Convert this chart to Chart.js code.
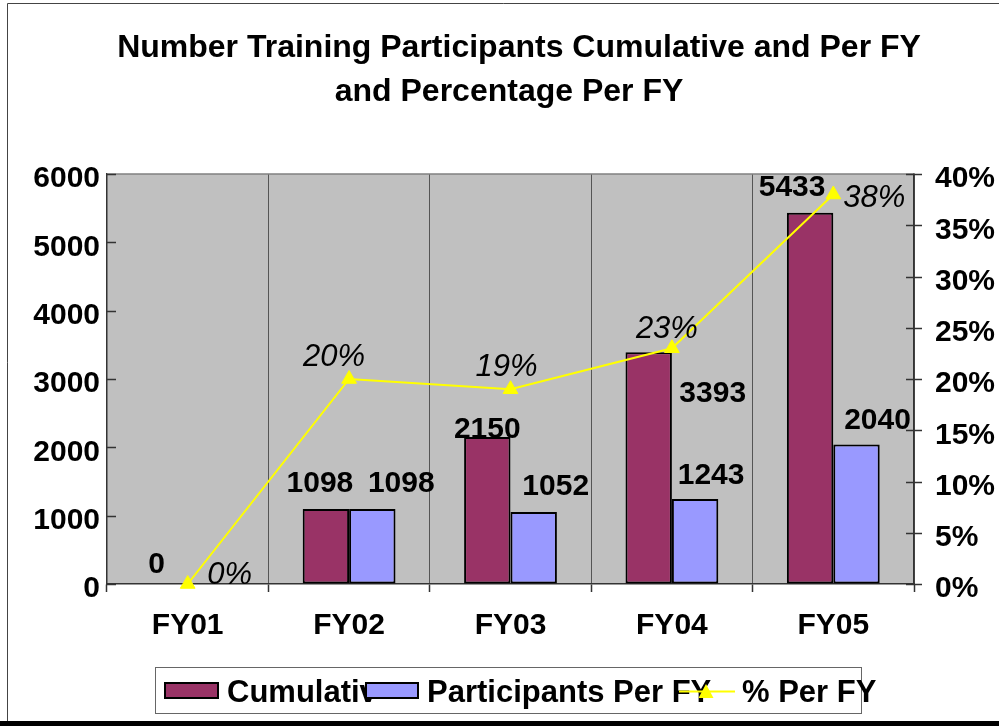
<!DOCTYPE html>
<html>
<head>
<meta charset="utf-8">
<script src="https://cdn.jsdelivr.net/npm/chart.js@4.4.0/dist/chart.umd.min.js"></script>
<style>
  body { margin: 0; background: #fff; }
  #wrap { width: 999px; height: 726px; position: relative; }
</style>
</head>
<body>
<div id="wrap"><canvas id="myChart"></canvas></div>
<script>
const categories = ['FY01', 'FY02', 'FY03', 'FY04', 'FY05'];
const cumulative = [0, 1098, 2150, 3393, 5433];
const perFY = [0, 1098, 1052, 1243, 2040];
const pctPerFY = [0, 20, 19, 23, 38];
const titleLines = ['Number Training Participants Cumulative and Per FY', 'and Percentage Per FY'];

const FONT = "'Liberation Sans', Arial, sans-serif";

// hand placed label offsets, like the moved labels of the original
const labelShift = {
  0: [[-8, -19], [-6, -25], [0, -7], [64, 42], [-18, -25]],
  1: [null, [29, -25], [22, -25], [16, -23], [21, -24]],
  2: [[42, -9], [-15, -22], [-4, -22], [-5, -19], [41, 4]]
};

const framePlugin = {
  id: 'frame',
  beforeDraw(chart) {
    const ctx = chart.ctx;
    const a = chart.chartArea;
    ctx.save();
    ctx.fillStyle = '#fff';
    ctx.fillRect(0, 0, chart.width, chart.height);
    ctx.strokeStyle = '#444';
    ctx.lineWidth = 1;
    ctx.beginPath();
    ctx.moveTo(7.5, 721);
    ctx.lineTo(7.5, 3.5);
    ctx.lineTo(chart.width, 3.5);
    ctx.stroke();
    ctx.fillStyle = '#000';
    ctx.fillRect(0, 721, chart.width, 5);
    ctx.fillStyle = '#C0C0C0';
    ctx.fillRect(a.left, a.top, a.right - a.left, a.bottom - a.top);
    ctx.restore();
  },
  afterDraw(chart) {
    const ctx = chart.ctx;
    const a = chart.chartArea;
    ctx.save();
    // top edge of plot area
    ctx.strokeStyle = '#808080';
    ctx.lineWidth = 1.5;
    ctx.beginPath();
    ctx.moveTo(a.left, a.top);
    ctx.lineTo(a.right, a.top);
    ctx.stroke();
    // tick marks: inward on the left, crossing on the right
    ctx.strokeStyle = '#333';
    ctx.lineWidth = 1.5;
    const yl = chart.scales.y;
    yl.ticks.forEach(function (t) {
      const py = Math.round(yl.getPixelForValue(t.value)) + 0.5;
      ctx.beginPath();
      ctx.moveTo(a.left, py);
      ctx.lineTo(a.left + 9, py);
      ctx.stroke();
    });
    const yr = chart.scales.y1;
    yr.ticks.forEach(function (t) {
      const py = Math.round(yr.getPixelForValue(t.value)) + 0.5;
      ctx.beginPath();
      ctx.moveTo(a.right - 8, py);
      ctx.lineTo(a.right + 8, py);
      ctx.stroke();
    });
    // title
    ctx.fillStyle = '#000';
    ctx.font = 'bold 32px ' + FONT;
    ctx.textAlign = 'center';
    ctx.textBaseline = 'middle';
    ctx.fillText(titleLines[0], 519, 48);
    ctx.fillText(titleLines[1], 509, 92);
    // legend
    ctx.fillStyle = '#fff';
    ctx.fillRect(155.5, 667.5, 706, 46);
    ctx.strokeStyle = '#666';
    ctx.lineWidth = 1;
    ctx.strokeRect(155.5, 667.5, 706, 46);
    const ds = chart.data.datasets;
    ctx.font = 'bold 31px ' + FONT;
    ctx.textAlign = 'left';
    // item 1
    ctx.fillStyle = ds[0].backgroundColor;
    ctx.strokeStyle = '#000';
    ctx.lineWidth = 2;
    ctx.fillRect(165, 683, 53, 15);
    ctx.strokeRect(165, 683, 53, 15);
    ctx.save();
    ctx.beginPath();
    ctx.rect(220, 668, 155, 45);
    ctx.clip();
    ctx.fillStyle = '#000';
    ctx.fillText(ds[0].label, 227, 693);
    ctx.restore();
    // item 2
    ctx.fillStyle = ds[1].backgroundColor;
    ctx.fillRect(366, 683, 52, 15);
    ctx.strokeRect(366, 683, 52, 15);
    ctx.fillStyle = '#000';
    ctx.fillText(ds[1].label, 427, 693);
    // item 3
    ctx.strokeStyle = ds[2].borderColor;
    ctx.lineWidth = 2;
    ctx.beginPath();
    ctx.moveTo(679, 691.5);
    ctx.lineTo(735, 691.5);
    ctx.stroke();
    ctx.fillStyle = ds[2].pointBackgroundColor;
    ctx.beginPath();
    ctx.moveTo(706, 684);
    ctx.lineTo(713.5, 698);
    ctx.lineTo(698.5, 698);
    ctx.closePath();
    ctx.fill();
    ctx.fillStyle = '#000';
    ctx.fillText(ds[2].label, 742, 693);
    ctx.restore();
  }
};

const valueLabels = {
  id: 'valueLabels',
  afterDatasetsDraw(chart) {
    const ctx = chart.ctx;
    ctx.save();
    ctx.textAlign = 'center';
    ctx.textBaseline = 'middle';
    ctx.fillStyle = '#000';
    chart.data.datasets.forEach(function (ds, di) {
      const meta = chart.getDatasetMeta(di);
      meta.data.forEach(function (el, i) {
        const shift = labelShift[di][i];
        if (!shift) return;
        const v = ds.data[i];
        let txt;
        if (ds.type === 'line') {
          ctx.font = 'italic 31px ' + FONT;
          txt = v + '%';
        } else {
          ctx.font = 'bold 30px ' + FONT;
          txt = String(v);
        }
        ctx.fillText(txt, el.x + shift[0], el.y + shift[1]);
      });
    });
    ctx.restore();
  }
};

const ctx = document.getElementById('myChart').getContext('2d');
const myChart = new Chart(ctx, {
  type: 'bar',
  data: {
    labels: categories,
    datasets: [{
      label: 'Cumulative',
      data: cumulative,
      backgroundColor: '#993366',
      borderColor: '#000',
      borderWidth: 2,
      borderSkipped: false,
      categoryPercentage: 0.575,
      barPercentage: 1,
      yAxisID: 'y',
      order: 1
    }, {
      label: 'Participants Per FY',
      data: perFY,
      backgroundColor: '#9999FF',
      borderColor: '#000',
      borderWidth: 2,
      borderSkipped: false,
      categoryPercentage: 0.575,
      barPercentage: 1,
      yAxisID: 'y',
      order: 1
    }, {
      type: 'line',
      label: '% Per FY',
      data: pctPerFY,
      borderColor: '#FFFF00',
      backgroundColor: '#FFFF00',
      borderWidth: 2,
      tension: 0,
      pointStyle: 'triangle',
      pointRadius: 8.5,
      pointBackgroundColor: '#FFFF00',
      pointBorderColor: '#FFFF00',
      pointBorderWidth: 1,
      clip: false,
      yAxisID: 'y1',
      order: 0
    }]
  },
  options: {
    responsive: true,
    maintainAspectRatio: false,
    animation: false,
    layout: { padding: { top: 174, left: 0, right: 0, bottom: 0 } },
    plugins: {
      legend: { display: false },
      title: { display: false },
      tooltip: { enabled: false }
    },
    scales: {
      x: {
        offset: true,
        grid: {
          offset: true,
          color: '#555',
          lineWidth: 1,
          tickLength: 8,
          tickColor: '#333',
          tickWidth: 1.5
        },
        border: { color: '#333', width: 1.5 },
        ticks: {
          color: '#000',
          padding: 16,
          font: { family: FONT, size: 30, weight: 'bold' }
        },
        afterFit: function (scale) { scale.height = 142; }
      },
      y: {
        position: 'left',
        min: 0,
        max: 6000,
        grid: { display: true, drawOnChartArea: false, drawTicks: false },
        border: { color: '#333', width: 1.5 },
        ticks: {
          stepSize: 1000,
          color: '#000',
          padding: 7,
          labelOffset: 5,
          font: { family: FONT, size: 30, weight: 'bold' },
          callback: function (v) { return String(v); }
        },
        afterFit: function (scale) { scale.width = 107; }
      },
      y1: {
        position: 'right',
        min: 0,
        max: 40,
        grid: { display: true, drawOnChartArea: false, drawTicks: false },
        border: { color: '#333', width: 1.5 },
        ticks: {
          stepSize: 5,
          color: '#000',
          padding: 21,
          labelOffset: 5,
          font: { family: FONT, size: 30, weight: 'bold' },
          callback: function (v) { return v + '%'; }
        },
        afterFit: function (scale) { scale.width = 85; }
      }
    }
  },
  plugins: [framePlugin, valueLabels]
});
</script>
</body>
</html>
